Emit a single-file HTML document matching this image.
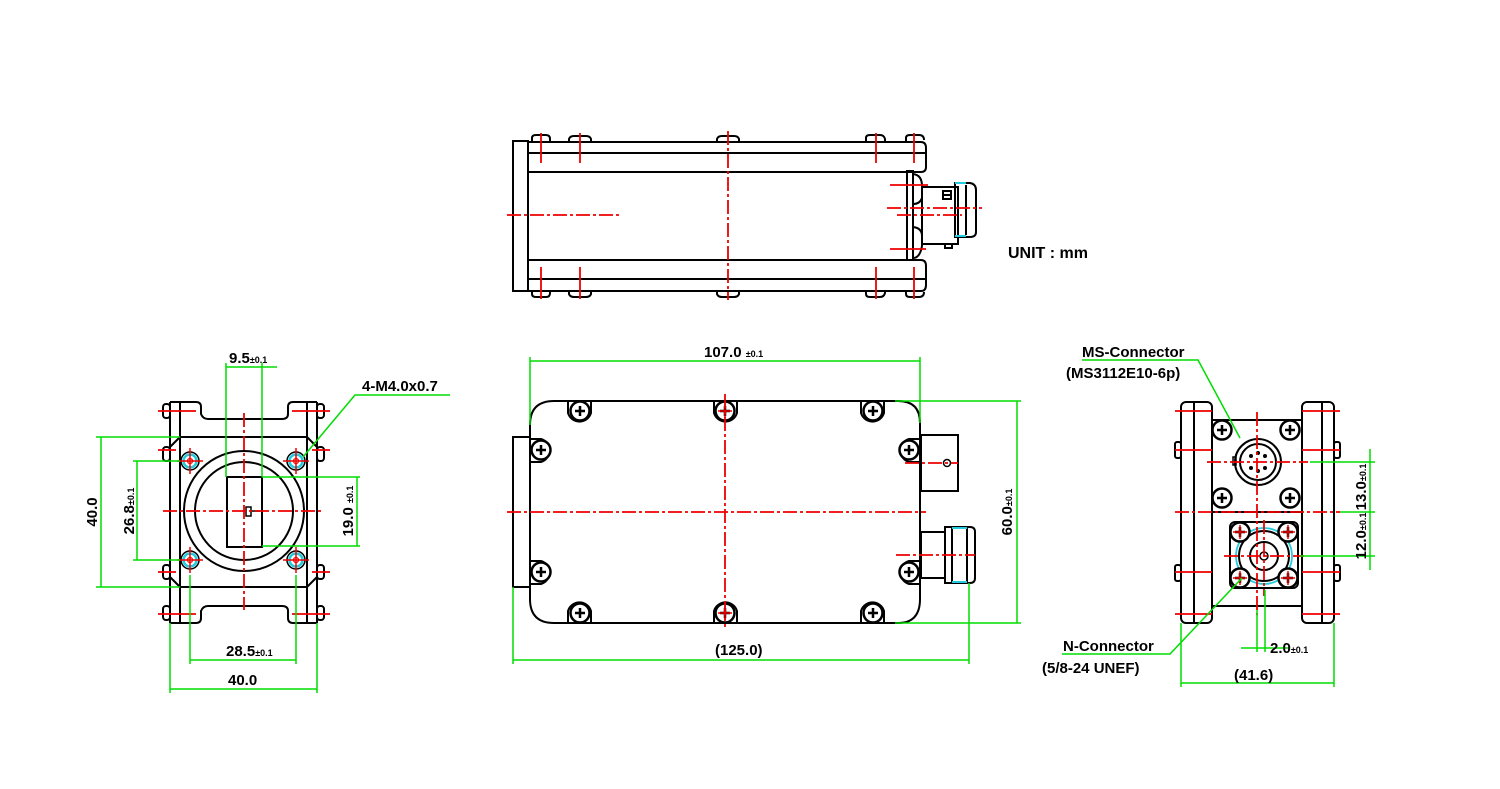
<!DOCTYPE html>
<html><head><meta charset="utf-8"><style>
html,body{margin:0;padding:0;background:#fff;}
svg{display:block;}
text{font-family:"Liberation Sans",sans-serif;font-weight:bold;fill:#000;}
</style></head><body>
<svg width="1500" height="789" viewBox="0 0 1500 789" xmlns="http://www.w3.org/2000/svg">
<defs>
<g id="sc"><circle r="9.5" fill="#fff" stroke="#000" stroke-width="2.5"/><path d="M-5 0H5M0-5V5" stroke="#000" stroke-width="2.5"/></g>
<g id="scr"><circle r="9.5" fill="#fff" stroke="#000" stroke-width="2.5"/><path d="M-5 0H5M0-5V5" stroke="#000" stroke-width="2.5"/><path d="M-7 0H7M0-7V7" stroke="#e00" stroke-width="1.5"/></g>
<g id="hole"><circle r="9" fill="none" stroke="#000" stroke-width="1.5"/><circle r="6.5" fill="none" stroke="#2cd" stroke-width="2.5"/><circle r="2.5" fill="none" stroke="#e00" stroke-width="1.2"/><path d="M-13 0H13M0-13V13" stroke="#e00" stroke-width="1.5"/></g>
</defs>

<!-- ================= TOP VIEW ================= -->
<g fill="none" stroke="#000" stroke-width="2">
<rect x="513" y="141" width="15" height="150"/>
<path d="M528 142H921Q926 142 926 148V167Q926 172 921 172H528"/>
<path d="M528 291H921Q926 291 926 285V266Q926 260 921 260H528"/>
<line x1="528" y1="153" x2="926" y2="153"/>
<line x1="528" y1="279" x2="926" y2="279"/>
<path d="M532 142V138Q532 135 536 135H546Q550 135 550 139V142"/>
<path d="M569 142V139Q570 136 574 136H586Q590 136 591 139V142"/>
<path d="M717 142V139Q718 136 722 136H734Q738 136 739 139V142"/>
<path d="M866 142V138Q866 135 870 135H880Q884 135 885 139V142"/>
<path d="M906 142V138Q906 135 910 135H919Q924 135 924 140"/>
<path d="M532 291V294Q532 297 536 297H546Q550 297 550 293V291"/>
<path d="M569 291V294Q570 297 574 297H586Q590 297 591 294V291"/>
<path d="M717 291V294Q718 297 722 297H734Q738 297 739 294V291"/>
<path d="M866 291V294Q866 297 870 297H880Q884 297 885 293V291"/>
<path d="M906 291V294Q906 297 910 297H919Q924 297 924 292"/>
<rect x="907" y="171" width="6" height="89"/>
<path d="M913 174Q922 175 922 186V198Q920 204 913 204"/>
<path d="M913 227Q922 228 922 236V246Q920 258 913 258"/>
<rect x="922" y="187" width="36" height="57"/>
<rect x="943" y="191" width="8" height="8"/>
<line x1="943" y1="195" x2="951" y2="195"/>
<path d="M955 183H970Q976 184 976 190V232Q976 237 970 237H955Z"/>
<line x1="966" y1="185" x2="966" y2="235"/>
<rect x="945" y="244" width="7" height="4"/>
</g>
<line x1="955" y1="183" x2="966" y2="183" stroke="#2cd" stroke-width="2"/>
<line x1="955" y1="236" x2="966" y2="236" stroke="#2cd" stroke-width="2"/>
<g stroke="#e00" stroke-width="1.8" stroke-dasharray="14 3 3 3">
<line x1="728" y1="131" x2="728" y2="300"/>
<line x1="507" y1="215" x2="620" y2="215"/>
<line x1="887" y1="208" x2="982" y2="208"/>
<line x1="897" y1="215" x2="962" y2="215"/>
</g>
<g stroke="#e00" stroke-width="1.8">
<line x1="541" y1="133" x2="541" y2="163"/><line x1="580" y1="133" x2="580" y2="163"/>
<line x1="876" y1="133" x2="876" y2="163"/><line x1="914" y1="133" x2="914" y2="163"/>
<line x1="541" y1="267" x2="541" y2="299"/><line x1="580" y1="267" x2="580" y2="299"/>
<line x1="876" y1="267" x2="876" y2="299"/><line x1="914" y1="267" x2="914" y2="299"/>
<line x1="890" y1="185" x2="928" y2="185"/><line x1="890" y1="249" x2="926" y2="249"/>
</g>
<text x="1008" y="258" font-size="16">UNIT : mm</text>

<!-- ================= FRONT VIEW (left) ================= -->
<g fill="none" stroke="#000" stroke-width="2">
<path d="M170 402H196Q201 402 201 407V414Q203 419 208 419H282Q288 419 288 414V407Q288 402 293 402H317"/>
<path d="M170 623H196Q201 623 201 618V611Q203 606 208 606H282Q288 606 288 611V618Q288 623 293 623H317"/>
<line x1="170" y1="402" x2="170" y2="623"/><line x1="317" y1="402" x2="317" y2="623"/>
<line x1="180" y1="402" x2="180" y2="623"/><line x1="307" y1="402" x2="307" y2="623"/>
<path d="M180 437H307"/><path d="M180 587H307"/>
<path d="M170 447L180 437M307 437L317 447M170 577L180 587M307 587L317 577"/>
<rect x="163" y="404" width="7" height="14" rx="3"/><rect x="317" y="404" width="7" height="14" rx="3"/>
<rect x="163" y="447" width="7" height="14" rx="3"/><rect x="317" y="447" width="7" height="14" rx="3"/>
<rect x="163" y="565" width="7" height="14" rx="3"/><rect x="317" y="565" width="7" height="14" rx="3"/>
<rect x="163" y="606" width="7" height="14" rx="3"/><rect x="317" y="606" width="7" height="14" rx="3"/>
<circle cx="244" cy="511" r="60"/><circle cx="244" cy="511" r="49"/>
<rect x="227" y="477" width="35" height="70"/>
<rect x="246" y="507" width="5" height="9" stroke-width="1.5"/>
<line x1="251" y1="511" x2="260" y2="511" stroke-width="1.5"/>
</g>
<use href="#hole" x="190" y="461"/><use href="#hole" x="296" y="461"/>
<use href="#hole" x="190" y="560"/><use href="#hole" x="296" y="560"/>
<g stroke="#e00" stroke-width="1.8">
<line x1="244" y1="413" x2="244" y2="610" stroke-dasharray="14 3 3 3"/>
<line x1="163" y1="511" x2="324" y2="511" stroke-dasharray="14 3 3 3"/>
<line x1="158" y1="411" x2="196" y2="411"/><line x1="292" y1="411" x2="330" y2="411"/>
<line x1="158" y1="614" x2="196" y2="614"/><line x1="292" y1="614" x2="330" y2="614"/>
<line x1="158" y1="450" x2="176" y2="450"/><line x1="312" y1="450" x2="330" y2="450"/>
<line x1="158" y1="572" x2="176" y2="572"/><line x1="312" y1="572" x2="330" y2="572"/>
</g>
<g stroke="#0d0" stroke-width="1.5" fill="none">
<line x1="96" y1="437" x2="180" y2="437"/><line x1="96" y1="587" x2="180" y2="587"/>
<line x1="101" y1="437" x2="101" y2="587"/>
<line x1="133" y1="461" x2="180" y2="461"/><line x1="133" y1="560" x2="180" y2="560"/>
<line x1="137" y1="461" x2="137" y2="560"/>
<line x1="262" y1="477" x2="360" y2="477"/><line x1="262" y1="546" x2="360" y2="546"/>
<line x1="357" y1="477" x2="357" y2="546"/>
<line x1="226" y1="363" x2="226" y2="477"/><line x1="262" y1="363" x2="262" y2="477"/>
<line x1="226" y1="367" x2="277" y2="367"/>
<line x1="190" y1="575" x2="190" y2="664"/><line x1="296" y1="575" x2="296" y2="664"/>
<line x1="190" y1="660" x2="296" y2="660"/>
<line x1="170" y1="623" x2="170" y2="693"/><line x1="317" y1="623" x2="317" y2="693"/>
<line x1="170" y1="689" x2="317" y2="689"/>
<polyline points="303,457 355,395 450,395"/>
</g>
<text x="229" y="363" font-size="15">9.5<tspan font-size="9">±0.1</tspan></text>
<text x="362" y="391" font-size="15">4-M4.0x0.7</text>
<text x="226" y="656" font-size="15">28.5<tspan font-size="9">±0.1</tspan></text>
<text x="228" y="685" font-size="15">40.0</text>
<text transform="translate(97,512) rotate(-90)" text-anchor="middle" font-size="15">40.0</text>
<text transform="translate(134,511) rotate(-90)" text-anchor="middle" font-size="15">26.8<tspan font-size="9">±0.1</tspan></text>
<text transform="translate(353,511) rotate(-90)" text-anchor="middle" font-size="15">19.0 <tspan font-size="9">±0.1</tspan></text>

<!-- ================= SIDE VIEW (middle) ================= -->
<g fill="none" stroke="#000" stroke-width="2">
<path d="M530 437V425Q530 401 554 401H898Q920 401 920 423V599Q920 623 898 623H554Q530 623 530 599V587"/>
<rect x="513" y="437" width="17" height="150"/>
<rect x="921" y="435" width="37" height="56"/>
<circle cx="947" cy="463" r="3.5" stroke-width="1.5"/>
<rect x="921" y="532" width="24" height="46"/>
<path d="M945 527H970Q975 527 975 532V578Q975 583 970 583H945Z"/>
<line x1="952" y1="528" x2="952" y2="582"/><line x1="967" y1="528" x2="967" y2="582"/>
</g>
<line x1="952" y1="528" x2="967" y2="528" stroke="#2cd" stroke-width="2"/>
<line x1="952" y1="582" x2="967" y2="582" stroke="#2cd" stroke-width="2"/>
<g fill="none" stroke="#000" stroke-width="2">
<path d="M568 401V413A12 12 0 0 0 591 413V401"/><path d="M714 401V413A12 12 0 0 0 737 413V401"/><path d="M861 401V413A12 12 0 0 0 884 413V401"/>
<path d="M568 623V611A12 12 0 0 1 591 611V623"/><path d="M714 623V611A12 12 0 0 1 737 611V623"/><path d="M861 623V611A12 12 0 0 1 884 611V623"/>
<path d="M530 439H541A12 12 0 0 1 541 462H530"/><path d="M530 561H541A12 12 0 0 1 541 584H530"/>
<path d="M920 439H909A12 12 0 0 0 909 462H920"/><path d="M920 561H909A12 12 0 0 0 909 584H920"/>
</g>
<use href="#sc" x="580" y="411"/><use href="#scr" x="725" y="411"/><use href="#sc" x="873" y="411"/>
<use href="#sc" x="580" y="613"/><use href="#scr" x="725" y="613"/><use href="#sc" x="873" y="613"/>
<use href="#sc" x="541" y="450"/><use href="#sc" x="541" y="572"/>
<use href="#sc" x="909" y="450"/><use href="#sc" x="909" y="572"/>
<g stroke="#e00" stroke-width="1.8" stroke-dasharray="14 3 3 3">
<line x1="725" y1="394" x2="725" y2="627"/>
<line x1="507" y1="512" x2="926" y2="512"/>
<line x1="905" y1="463" x2="958" y2="463"/>
<line x1="896" y1="555" x2="975" y2="555"/>
</g>
<g stroke="#0d0" stroke-width="1.5" fill="none">
<line x1="530" y1="357" x2="530" y2="425"/><line x1="920" y1="357" x2="920" y2="423"/>
<line x1="530" y1="361" x2="920" y2="361"/>
<line x1="895" y1="401" x2="1021" y2="401"/><line x1="895" y1="623" x2="1021" y2="623"/>
<line x1="1017" y1="401" x2="1017" y2="623"/>
<line x1="513" y1="587" x2="513" y2="664"/><line x1="969" y1="583" x2="969" y2="664"/>
<line x1="513" y1="660" x2="969" y2="660"/>
</g>
<text x="704" y="357" font-size="15">107.0 <tspan font-size="9">±0.1</tspan></text>
<text x="715" y="655" font-size="15">(125.0)</text>
<text transform="translate(1012,512) rotate(-90)" text-anchor="middle" font-size="15">60.0<tspan font-size="9">±0.1</tspan></text>

<!-- ================= END VIEW (right) ================= -->
<g fill="none" stroke="#000" stroke-width="2">
<rect x="1181" y="402" width="31" height="221" rx="5"/>
<rect x="1302" y="402" width="32" height="221" rx="5"/>
<line x1="1194" y1="402" x2="1194" y2="623"/><line x1="1322" y1="402" x2="1322" y2="623"/>
<path d="M1212 420H1302M1212 606H1302M1212 512H1302"/>
<path d="M1212 420V606M1302 420V606"/>
<rect x="1175" y="442" width="6" height="16" rx="2"/><rect x="1334" y="442" width="6" height="16" rx="2"/>
<rect x="1175" y="565" width="6" height="16" rx="2"/><rect x="1334" y="565" width="6" height="16" rx="2"/>
<circle cx="1258" cy="462" r="23"/><circle cx="1258" cy="462" r="18"/>
<rect x="1233" y="457" width="3" height="8" stroke-width="1.5"/>
<rect x="1230" y="522" width="68" height="66" rx="5"/>
<circle cx="1264" cy="556" r="25"/><circle cx="1264" cy="556" r="14"/><circle cx="1264" cy="556" r="4" stroke-width="1.5"/>
</g>
<circle cx="1264" cy="556" r="28" fill="none" stroke="#2cd" stroke-width="1.8"/>
<g fill="#000">
<circle cx="1251" cy="456" r="2"/><circle cx="1258" cy="453" r="2"/><circle cx="1265" cy="456" r="2"/>
<circle cx="1251" cy="468" r="2"/><circle cx="1258" cy="471" r="2"/><circle cx="1265" cy="468" r="2"/>
</g>
<use href="#sc" x="1222" y="430"/><use href="#sc" x="1290" y="430"/>
<use href="#sc" x="1222" y="498"/><use href="#sc" x="1290" y="498"/>
<use href="#scr" x="1240" y="532"/><use href="#scr" x="1288" y="532"/>
<use href="#scr" x="1240" y="578"/><use href="#scr" x="1288" y="578"/>
<g stroke="#e00" stroke-width="1.8" stroke-dasharray="14 3 3 3">
<line x1="1257" y1="412" x2="1257" y2="615"/>
<line x1="1264" y1="520" x2="1264" y2="596"/>
<line x1="1207" y1="462" x2="1308" y2="462"/>
<line x1="1175" y1="512" x2="1340" y2="512"/>
<line x1="1224" y1="556" x2="1304" y2="556"/>
</g>
<g stroke="#e00" stroke-width="1.8">
<line x1="1175" y1="411" x2="1212" y2="411"/><line x1="1302" y1="411" x2="1340" y2="411"/>
<line x1="1175" y1="450" x2="1212" y2="450"/><line x1="1302" y1="450" x2="1340" y2="450"/>
<line x1="1175" y1="572" x2="1212" y2="572"/><line x1="1302" y1="572" x2="1340" y2="572"/>
<line x1="1175" y1="614" x2="1212" y2="614"/><line x1="1302" y1="614" x2="1340" y2="614"/>
</g>
<g stroke="#0d0" stroke-width="1.5" fill="none">
<line x1="1310" y1="462" x2="1375" y2="462"/><line x1="1340" y1="512" x2="1375" y2="512"/><line x1="1300" y1="556" x2="1375" y2="556"/>
<line x1="1370" y1="449" x2="1370" y2="570"/>
<line x1="1257" y1="610" x2="1257" y2="652"/><line x1="1265" y1="590" x2="1265" y2="652"/>
<line x1="1241" y1="648" x2="1289" y2="648"/>
<line x1="1181" y1="623" x2="1181" y2="687"/><line x1="1334" y1="623" x2="1334" y2="687"/>
<line x1="1181" y1="683" x2="1334" y2="683"/>
<polyline points="1082,360 1198,360 1240,438"/>
<polyline points="1062,654 1170,654 1242,578"/>
</g>
<text x="1082" y="357" font-size="15">MS-Connector</text>
<text x="1066" y="378" font-size="15">(MS3112E10-6p)</text>
<text x="1063" y="651" font-size="15">N-Connector</text>
<text x="1042" y="673" font-size="15">(5/8-24 UNEF)</text>
<text x="1270" y="653" font-size="15">2.0<tspan font-size="9">±0.1</tspan></text>
<text x="1234" y="680" font-size="15">(41.6)</text>
<text transform="translate(1366,487) rotate(-90)" text-anchor="middle" font-size="15">13.0<tspan font-size="9">±0.1</tspan></text>
<text transform="translate(1366,536) rotate(-90)" text-anchor="middle" font-size="15">12.0<tspan font-size="9">±0.1</tspan></text>
</svg>
</body></html>
